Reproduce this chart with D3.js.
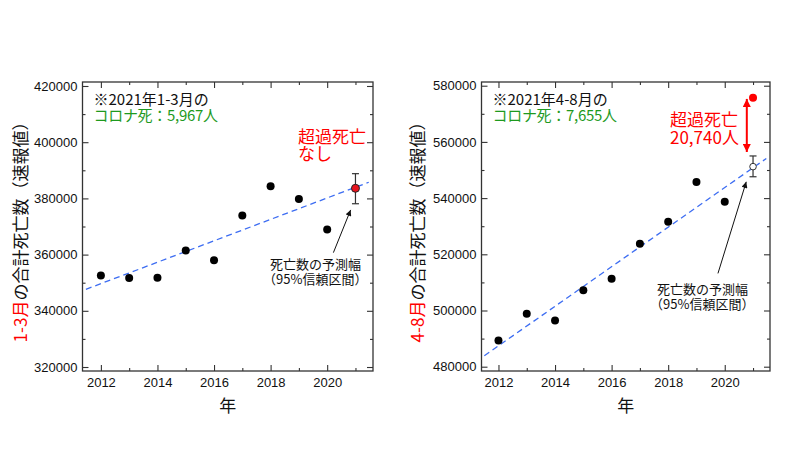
<!DOCTYPE html>
<html><head><meta charset="utf-8">
<script src="https://cdn.jsdelivr.net/npm/d3@7"></script>
<style>body{margin:0;background:#fff}svg{display:block}</style>
</head><body><svg id="c" width="800" height="476"></svg>
<script>
// ---- data ----
const years = [2012, 2013, 2014, 2015, 2016, 2017, 2018, 2019, 2020];
const janMarDeaths = [352600, 351700, 351800, 361500, 358000, 373900, 384300, 379800, 368900];
const aprAugDeaths = [489300, 498800, 496400, 507200, 511300, 523800, 531600, 545700, 538700];
const year2021 = 2021;
const janMarActual2021 = 383600;
const janMarInterval2021 = [378100, 388800];
const aprAugActual2021 = 575700;
const aprAugPredicted2021 = 551200;
const aprAugInterval2021 = [547600, 555000];
const janMarTrendYears = [2011.47, 2021.47];
const janMarTrend = [347650, 385750];
const aprAugTrendYears = [2011.5, 2021.47];
const aprAugTrend = [483900, 554100];
const excessArrow = [575300, 556400];
const xTickLabels = [2012, 2014, 2016, 2018, 2020];
const xMinorTicks = [2013, 2015, 2017, 2019, 2021];
const yTicksJanMar = [320000, 340000, 360000, 380000, 400000, 420000];
const yMinorJanMar = [330000, 350000, 370000, 390000, 410000];
const yTicksAprAug = [480000, 500000, 520000, 540000, 560000, 580000];
const yMinorAprAug = [490000, 510000, 530000, 550000, 570000];

const svg = d3.select('#c');
const JP = '"Noto Sans CJK JP","Noto Sans",sans-serif';
const NUM = '"Liberation Sans",Arial,sans-serif';
const AX = '#333';

const defs = svg.append('defs');
function marker(id, color, w, h) {
  defs.append('marker').attr('id', id).attr('viewBox', '0 0 10 10')
    .attr('refX', 10).attr('refY', 5).attr('markerWidth', w).attr('markerHeight', h)
    .attr('markerUnits', 'userSpaceOnUse').attr('orient', 'auto-start-reverse')
    .append('path').attr('d', 'M0,0 L10,5 L0,10 Z').attr('fill', color);
}
marker('ab', '#111', 8, 6);
marker('ar', '#f00', 11, 8);

// multi-line text as one element with tspans
function lines(g, x, y, dy, rows, size, color) {
  const t = g.append('text').attr('font-family', JP).attr('font-size', size).attr('fill', color);
  rows.forEach((r, i) => {
    const s = t.append('tspan').attr('x', x + (r.dx || 0)).attr('y', y + i * dy).text(r.text);
    if (r.fill) s.attr('fill', r.fill);
    if (r.ls != null) s.attr('letter-spacing', r.ls);
  });
  return t;
}

function panel(cfg) {
  const x = d3.scaleLinear().domain(cfg.xDomain).range([cfg.left, cfg.right]);
  const y = d3.scaleLinear().domain(cfg.yDomain).range([cfg.bottom, cfg.top]);
  const g = svg.append('g');

  const styleAxis = sel => {
    sel.select('.domain').remove();
    sel.selectAll('.tick line').attr('stroke', AX).attr('stroke-width', 1.1);
    sel.selectAll('.tick text').attr('font-family', NUM).attr('font-size', 13).attr('fill', '#111');
  };
  // bottom
  g.append('g').attr('transform', `translate(0,${cfg.bottom})`)
    .call(d3.axisBottom(x).tickValues(xTickLabels).tickFormat(d3.format('d')).tickSizeInner(-6).tickSizeOuter(0).tickPadding(7)).call(styleAxis);
  g.append('g').attr('transform', `translate(0,${cfg.bottom})`)
    .call(d3.axisBottom(x).tickValues(xMinorTicks).tickFormat('').tickSizeInner(-3).tickSizeOuter(0)).call(styleAxis);
  // top
  g.append('g').attr('transform', `translate(0,${cfg.top})`)
    .call(d3.axisTop(x).tickValues(xTickLabels).tickFormat('').tickSizeInner(-6).tickSizeOuter(0)).call(styleAxis);
  g.append('g').attr('transform', `translate(0,${cfg.top})`)
    .call(d3.axisTop(x).tickValues(xMinorTicks).tickFormat('').tickSizeInner(-3).tickSizeOuter(0)).call(styleAxis);
  // left
  g.append('g').attr('transform', `translate(${cfg.left},0)`)
    .call(d3.axisLeft(y).tickValues(cfg.yTicks).tickFormat(d3.format('d')).tickSizeInner(-6).tickSizeOuter(0).tickPadding(5)).call(styleAxis);
  g.append('g').attr('transform', `translate(${cfg.left},0)`)
    .call(d3.axisLeft(y).tickValues(cfg.yMinor).tickFormat('').tickSizeInner(-3).tickSizeOuter(0)).call(styleAxis);
  // right
  g.append('g').attr('transform', `translate(${cfg.right},0)`)
    .call(d3.axisRight(y).tickValues(cfg.yTicks).tickFormat('').tickSizeInner(-6).tickSizeOuter(0)).call(styleAxis);
  g.append('g').attr('transform', `translate(${cfg.right},0)`)
    .call(d3.axisRight(y).tickValues(cfg.yMinor).tickFormat('').tickSizeInner(-3).tickSizeOuter(0)).call(styleAxis);

  // frame
  g.append('rect').attr('x', cfg.left).attr('y', cfg.top)
    .attr('width', cfg.right - cfg.left).attr('height', cfg.bottom - cfg.top)
    .attr('fill', 'none').attr('stroke', AX).attr('stroke-width', 1.3);

  // trend line
  g.append('path')
    .datum(cfg.trendYears.map((yr, i) => [yr, cfg.trend[i]]))
    .attr('d', d3.line().x(d => x(d[0])).y(d => y(d[1])))
    .attr('fill', 'none').attr('stroke', '#3d6df2').attr('stroke-width', 1.3).attr('stroke-dasharray', '6,4');

  // points
  g.selectAll('circle.pt').data(years.map((yr, i) => [yr, cfg.values[i]])).join('circle')
    .attr('class', 'pt').attr('cx', d => x(d[0])).attr('cy', d => y(d[1])).attr('r', 4).attr('fill', '#000');

  // error bar
  const ex = x(year2021);
  const [lo, hi] = cfg.interval;
  g.append('line').attr('x1', ex).attr('x2', ex).attr('y1', y(lo)).attr('y2', y(hi)).attr('stroke', AX).attr('stroke-width', 1.2);
  [lo, hi].forEach(v => g.append('line').attr('x1', ex - 3.5).attr('x2', ex + 3.5).attr('y1', y(v)).attr('y2', y(v)).attr('stroke', AX).attr('stroke-width', 1.2));

  // axis labels
  const yl = g.append('text').attr('transform', `translate(${cfg.ylabelX},228) rotate(-90)`)
    .attr('text-anchor', 'middle').attr('dominant-baseline', 'central')
    .attr('font-family', JP).attr('font-size', 17).attr('fill', '#111');
  yl.append('tspan').attr('fill', '#f00').text(cfg.period);
  yl.append('tspan').text('の合計死亡数（速報値）');
  g.append('text').attr('x', (cfg.left + cfg.right) / 2).attr('y', 412).attr('text-anchor', 'middle')
    .attr('font-family', JP).attr('font-size', 17).attr('fill', '#111').text('年');

  // note top-left
  lines(g, cfg.left + 11, 105, 16, [
    {text: `※2021年${cfg.period}の`},
    {text: `コロナ死：${cfg.covid}人`, fill: '#1e9a1e', ls: -0.3}
  ], 15, '#111');

  // prediction note + arrow
  lines(g, cfg.noteX, cfg.noteY, 15, [
    {text: '死亡数の予測幅'},
    {text: '（95%信頼区間）', dx: -7}
  ], 13, '#111');
  g.append('line').attr('x1', x(cfg.arrow[0][0])).attr('y1', y(cfg.arrow[0][1]))
    .attr('x2', x(cfg.arrow[1][0])).attr('y2', y(cfg.arrow[1][1]))
    .attr('stroke', '#111').attr('stroke-width', 1).attr('marker-end', 'url(#ab)');

  return {g, x, y};
}

// ---- left panel ----
const L = panel({
  left: 82.5, right: 373, top: 82, bottom: 371,
  xDomain: [2011.35, 2021.62], yDomain: [318580, 421420],
  yTicks: yTicksJanMar, yMinor: yMinorJanMar,
  values: janMarDeaths, trendYears: janMarTrendYears, trend: janMarTrend,
  interval: janMarInterval2021, period: '1-3月', covid: '5,967', ylabelX: 19,
  noteX: 270, noteY: 269, arrow: [[2020.22, 360700], [2020.83, 375900]]
});
L.g.append('circle').attr('cx', L.x(year2021)).attr('cy', L.y(janMarActual2021)).attr('r', 4)
  .attr('fill', '#e8141e').attr('stroke', '#222').attr('stroke-width', 1);
lines(L.g, 298, 143, 17, [{text: '超過死亡'}, {text: 'なし'}], 17, '#f00');

// ---- right panel ----
const R = panel({
  left: 481.5, right: 770, top: 82, bottom: 371,
  xDomain: [2011.4, 2021.6], yDomain: [478470, 581320],
  yTicks: yTicksAprAug, yMinor: yMinorAprAug,
  values: aprAugDeaths, trendYears: aprAugTrendYears, trend: aprAugTrend,
  interval: aprAugInterval2021, period: '4-8月', covid: '7,655', ylabelX: 416,
  noteX: 657, noteY: 294, arrow: [[2019.76, 513200], [2020.76, 545800]]
});
R.g.append('circle').attr('cx', R.x(year2021)).attr('cy', R.y(aprAugPredicted2021)).attr('r', 3.3)
  .attr('fill', '#fff').attr('stroke', '#333').attr('stroke-width', 1);
R.g.append('circle').attr('cx', R.x(year2021)).attr('cy', R.y(aprAugActual2021)).attr('r', 4).attr('fill', '#f00');
R.g.append('line').attr('x1', R.x(2020.78)).attr('x2', R.x(2020.78))
  .attr('y1', R.y(excessArrow[1])).attr('y2', R.y(excessArrow[0]))
  .attr('stroke', '#f00').attr('stroke-width', 2)
  .attr('marker-start', 'url(#ar)').attr('marker-end', 'url(#ar)');
lines(R.g, 670, 126, 18, [{text: '超過死亡'}, {text: '20,740人'}], 17, '#f00');
</script></body></html>
